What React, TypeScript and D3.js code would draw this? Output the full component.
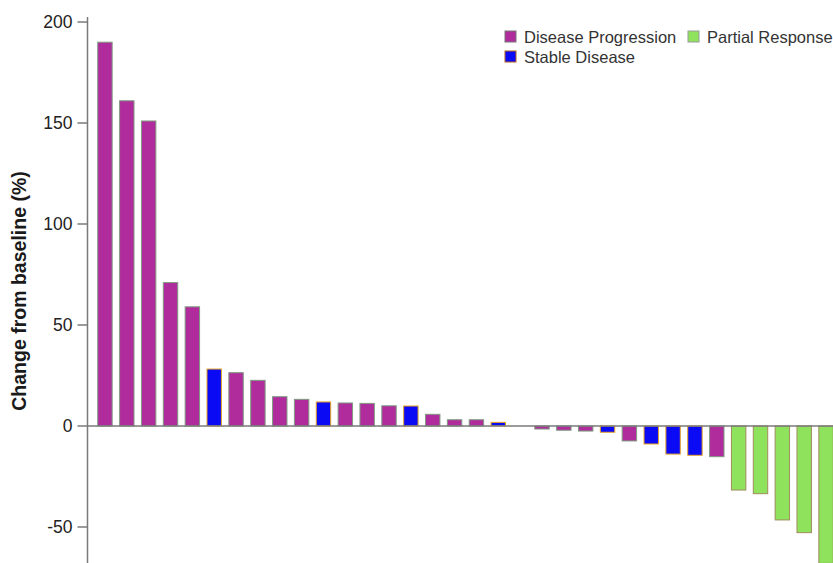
import * as d3 from "d3";

const W = 833;
const H = 563;

// one value per patient, slot 20 has no bar
const patients = d3.range(1, 35).map((i) => `P${i}`);
const changes = [
  190, 161, 151, 71, 59, 28.2, 26.4, 22.6, 14.5, 13.2, 11.9, 11.4, 11.2, 10.0,
  9.9, 5.8, 3.1, 3.1, 1.8, 0, -1.5, -2.1, -2.5, -3.1, -7.4, -8.9, -13.9, -14.5,
  -15.2, -31.7, -33.5, -46.5, -52.8, -68,
];
const responses = [
  "PD", "PD", "PD", "PD", "PD", "SD", "PD", "PD", "PD", "PD", "SD", "PD", "PD",
  "PD", "SD", "PD", "PD", "PD", "SD", "none", "PD", "PD", "PD", "SD", "PD", "SD",
  "SD", "SD", "PD", "PR", "PR", "PR", "PR", "PR",
];
const yTicks = [200, 150, 100, 50, 0, -50];

const fills: Record<string, string> = { PD: "#b02c9c", SD: "#0a0af5", PR: "#8ee25c" };
const strokes: Record<string, string> = { PD: "#7f9b80", SD: "#e8a526", PR: "#a08c5e" };

const bars = patients.map((p, i) => ({ id: p, value: changes[i], type: responses[i] }));

export default function App() {
  const x = d3.scaleBand<string>().domain(patients).range([89, 842]).paddingInner(0.34).paddingOuter(0.4);
  const y = d3.scaleLinear().domain([-50, 200]).range([527, 22]);
  const axisX = 87.5;
  const font = "Liberation Sans, Arial, sans-serif";

  return (
    <svg
      width={W}
      height={H}
      style={{ position: "absolute", left: 0, top: 0, background: "#fff" }}
      fontFamily={font}
    >
      {/* bars */}
      {bars
        .filter((d) => d.type !== "none")
        .map((d) => (
          <rect
            key={d.id}
            x={x(d.id)}
            y={y(Math.max(0, d.value))}
            width={x.bandwidth()}
            height={Math.abs(y(d.value) - y(0))}
            fill={fills[d.type]}
            stroke={strokes[d.type]}
            strokeWidth={1}
          />
        ))}

      {/* zero line */}
      <line x1={axisX} x2={W} y1={y(0)} y2={y(0)} stroke="#7a7a7a" strokeWidth={1.5} />

      {/* y axis */}
      <line x1={axisX} x2={axisX} y1={17} y2={H} stroke="#7a7a7a" strokeWidth={1.5} />
      {yTicks.map((t) => (
        <g key={t} transform={`translate(0,${y(t)})`}>
          <line x1={axisX - 10} x2={axisX} stroke="#7a7a7a" strokeWidth={1.5} />
          <text x={axisX - 15} dy="0.36em" textAnchor="end" fontSize={17.5} fill="#222">
            {t}
          </text>
        </g>
      ))}
      <text
        transform={`translate(26,${(y(0) + y(200)) / 2 + 67}) rotate(-90)`}
        textAnchor="middle"
        fontSize={19.5}
        fontWeight="bold"
        fill="#1a1a1a"
      >
        Change from baseline (%)
      </text>

      {/* legend */}
      <g fontSize={16.5} fill="#333">
        <rect x={505} y={31} width={11} height={11} fill={fills.PD} stroke="#777" />
        <text x={524} y={43}>Disease Progression</text>
        <rect x={688} y={31} width={11} height={11} fill={fills.PR} stroke="#999" />
        <text x={707} y={43}>Partial Response</text>
        <rect x={505} y={51} width={11} height={11} fill={fills.SD} stroke="#b5651d" />
        <text x={524} y={63}>Stable Disease</text>
      </g>
    </svg>
  );
}
